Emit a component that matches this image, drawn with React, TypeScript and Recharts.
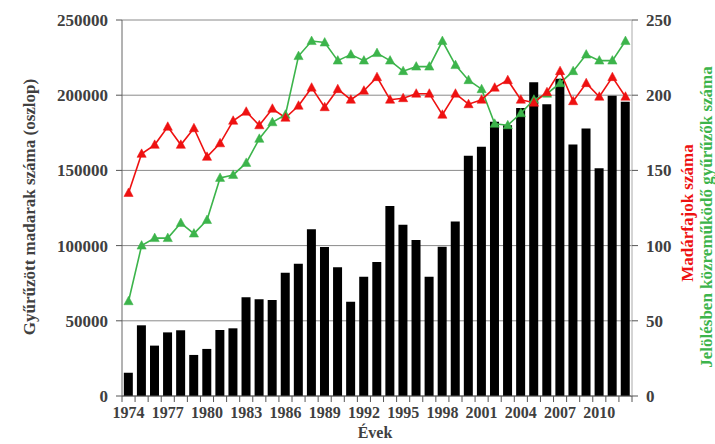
import React from 'react';
import { ComposedChart, Bar, Line, XAxis, YAxis, CartesianGrid, Label } from 'recharts';

const years = [
  '1974', '1975', '1976', '1977', '1978', '1979', '1980', '1981', '1982', '1983',
  '1984', '1985', '1986', '1987', '1988', '1989', '1990', '1991', '1992', '1993',
  '1994', '1995', '1996', '1997', '1998', '1999', '2000', '2001', '2002', '2003',
  '2004', '2005', '2006', '2007', '2008', '2009', '2010', '2011', '2012',
];

// gyűrűzött madarak (oszlop, bal tengely)
const ringedBirds = [
  15500, 47000, 33500, 42300, 43700, 27300, 31300, 43900, 45000, 65600,
  64300, 63800, 82000, 88000, 110800, 99100, 85600, 62700, 79300, 89100,
  126300, 113900, 103700, 79300, 99300, 116100, 159800, 165800, 182400, 180000,
  191500, 208600, 194000, 211000, 167300, 177800, 151400, 199600, 195700,
];

// madárfajok száma (piros, jobb tengely)
const species = [
  135, 161, 167, 179, 167, 178, 159, 168, 183, 189,
  180, 191, 185, 193, 205, 192, 204, 197, 203, 212,
  197, 198, 201, 201, 187, 201, 194, 197, 205, 210,
  197, 195, 202, 216, 196, 208, 199, 212, 199,
];

// gyűrűzők száma (zöld, jobb tengely)
const ringers = [
  63, 100, 105, 105, 115, 108, 117, 145, 147, 155,
  171, 182, 187, 226, 236, 235, 223, 227, 223, 228,
  223, 216, 219, 219, 236, 220, 210, 204, 181, 180,
  188, 197, 201, 208, 216, 227, 223, 223, 236,
];

const leftTicks = [0, 50000, 100000, 150000, 200000, 250000];
const rightTicks = [0, 50, 100, 150, 200, 250];

const data = years.map((year, i) => ({
  year,
  birds: ringedBirds[i],
  species: species[i],
  ringers: ringers[i],
}));

const FONT = '"Liberation Serif", "DejaVu Serif", serif';
const TEXT = '#404040';
const RED = '#ee1111';
const GREEN = '#3cb44b';

const TICK_SIZE = 6;
const TICK_MARGIN = 5;

const triangle = (color: string) => (props: any) => {
  const { cx, cy, index } = props;
  if (cx == null || cy == null) return <g key={index} />;
  return (
    <path
      key={index}
      d={`M${cx},${cy - 5} L${cx + 4.6},${cy + 3.5} L${cx - 4.6},${cy + 3.5} Z`}
      fill={color}
      stroke={color}
      strokeWidth={0.5}
    />
  );
};

const YearTick = (props: any) => {
  const { x, y, payload, index } = props;
  const half = payload?.offset ?? 510 / 39 / 2;
  const axisY = y - TICK_SIZE - TICK_MARGIN;
  return (
    <g>
      {index === 0 && (
        <line x1={x - half} x2={x - half} y1={axisY} y2={axisY + TICK_SIZE} stroke="#555" />
      )}
      <line x1={x + half} x2={x + half} y1={axisY} y2={axisY + TICK_SIZE} stroke="#555" />
      {index % 3 === 0 && (
        <text
          x={x}
          y={y}
          dy="0.71em"
          textAnchor="middle"
          fontFamily={FONT}
          fontWeight="bold"
          fontSize={16}
          fill={TEXT}
        >
          {payload.value}
        </text>
      )}
    </g>
  );
};

export default function App() {
  return (
    <div style={{ position: 'absolute', left: 0, top: 0, width: 715, height: 444, background: '#fff' }}>
      <ComposedChart
        width={715}
        height={444}
        data={data}
        margin={{ top: 20, right: 0, bottom: 0, left: 0 }}
        barCategoryGap="14%"
      >
        <CartesianGrid yAxisId="left" vertical={false} stroke="#8a8a8a" />
        <XAxis
          dataKey="year"
          height={48}
          interval={0}
          tick={<YearTick />}
          tickLine={false}
          tickSize={TICK_SIZE}
          tickMargin={TICK_MARGIN}
          axisLine={{ stroke: '#555' }}
        >
          <Label
            content={({ viewBox }: any) => (
              <text
                x={viewBox.x + viewBox.width / 2 - 2}
                y={viewBox.y + 42}
                textAnchor="middle"
                fontFamily={FONT}
                fontWeight="bold"
                fontSize={16}
                fill={TEXT}
              >
                Évek
              </text>
            )}
          />
        </XAxis>
        <YAxis
          yAxisId="left"
          width={122}
          domain={[0, 250000]}
          ticks={leftTicks}
          tickSize={TICK_SIZE}
          tickMargin={8}
          tickLine={{ stroke: '#555' }}
          axisLine={{ stroke: '#666' }}
          tick={{ fontFamily: FONT, fontWeight: 'bold', fontSize: 17, fill: TEXT }}
        >
          <Label
            content={({ viewBox }: any) => {
              const x = viewBox.x + 29;
              const y = viewBox.y + viewBox.height / 2 - 1;
              return (
                <text
                  x={x}
                  y={y}
                  transform={`rotate(-90 ${x} ${y})`}
                  textAnchor="middle"
                  dominantBaseline="central"
                  fontFamily={FONT}
                  fontWeight="bold"
                  fontSize={17}
                  fill={TEXT}
                >
                  Gyűrűzött madarak száma (oszlop)
                </text>
              );
            }}
          />
        </YAxis>
        <YAxis
          yAxisId="right"
          orientation="right"
          width={83}
          domain={[0, 250]}
          ticks={rightTicks}
          tickSize={TICK_SIZE}
          tickMargin={8}
          tickLine={{ stroke: '#555' }}
          axisLine={{ stroke: '#aaa' }}
          tick={{ fontFamily: FONT, fontWeight: 'bold', fontSize: 17, fill: TEXT }}
        >
          <Label
            content={({ viewBox }: any) => {
              const x = viewBox.x + 55;
              const y = viewBox.y + viewBox.height / 2 + 5;
              return (
                <text
                  x={x}
                  y={y}
                  transform={`rotate(-90 ${x} ${y})`}
                  textAnchor="middle"
                  dominantBaseline="central"
                  fontFamily={FONT}
                  fontWeight="bold"
                  fontSize={17}
                  fill={RED}
                >
                  Madárfajok száma
                </text>
              );
            }}
          />
          <Label
            content={({ viewBox }: any) => {
              const x = viewBox.x + 74;
              const y = viewBox.y + viewBox.height / 2 + 9;
              return (
                <text
                  x={x}
                  y={y}
                  transform={`rotate(-90 ${x} ${y})`}
                  textAnchor="middle"
                  dominantBaseline="central"
                  fontFamily={FONT}
                  fontWeight="bold"
                  fontSize={17}
                  fill={GREEN}
                >
                  Jelölésben közreműködő gyűrűzők száma
                </text>
              );
            }}
          />
        </YAxis>
        <Bar yAxisId="left" dataKey="birds" fill="#000" isAnimationActive={false} />
        <Line
          yAxisId="right"
          type="linear"
          dataKey="ringers"
          stroke={GREEN}
          strokeWidth={1.6}
          dot={triangle(GREEN)}
          activeDot={false}
          isAnimationActive={false}
        />
        <Line
          yAxisId="right"
          type="linear"
          dataKey="species"
          stroke={RED}
          strokeWidth={1.6}
          dot={triangle(RED)}
          activeDot={false}
          isAnimationActive={false}
        />
      </ComposedChart>
    </div>
  );
}
